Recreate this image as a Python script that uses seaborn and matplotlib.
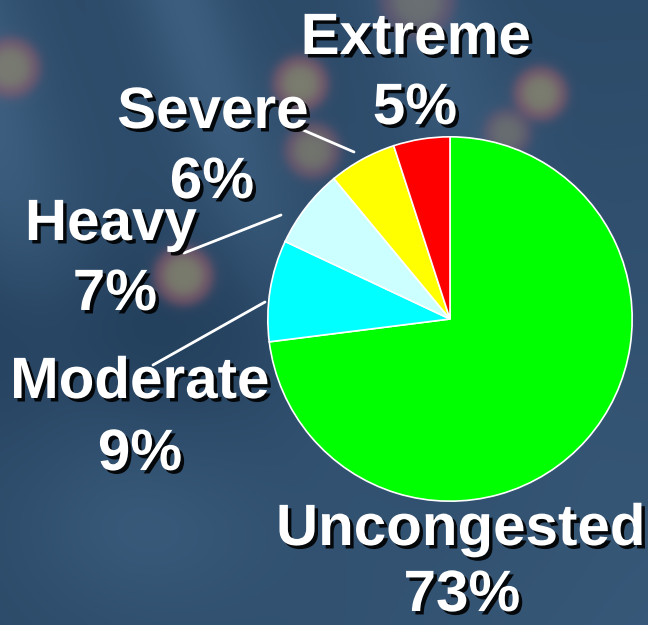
import numpy as np
import matplotlib.pyplot as plt
import matplotlib.patheffects as pe
from matplotlib.lines import Line2D
import seaborn as sns

# ---- data ----
labels = ["Uncongested", "Moderate", "Heavy", "Severe", "Extreme"]
shares = [73, 9, 7, 6, 5]
pct_labels = ["73%", "9%", "7%", "6%", "5%"]
colors = ["#00ff00", "#00ffff", "#ccffff", "#ffff00", "#ff0000"]

sns.set_style("white")
plt.rcParams["font.family"] = ["Liberation Sans", "DejaVu Sans"]

W, H = 648, 625
fig = plt.figure(figsize=(W / 100, H / 100), dpi=100)


def fxy(x, y):
    # pixel (from top-left) -> figure fraction
    return x / W, 1 - y / H


# ---- background (soft blue photo-like backdrop) ----
yy, xx = np.mgrid[0:H, 0:W].astype(float)
dark = np.array([0.12, 0.23, 0.34])
light = np.array([0.30, 0.44, 0.58])
t = 0.30 + 0.25 * (yy / H) * (xx / W)
# diagonal light streaks
for off, wid, s in [(-60, 70, 0.45), (180, 50, 0.35), (420, 60, 0.25)]:
    t += s * np.exp(-((xx - 0.35 * yy - off) / wid) ** 2) * np.exp(-(yy / 300.0) ** 2)
t -= 0.25 * np.exp(-(((xx - 120) / 200.0) ** 2 + ((yy - 330) / 90.0) ** 2))
t += 0.2 * np.exp(-(((xx - 140) / 120.0) ** 2 + ((yy - 530) / 80.0) ** 2))
bg = dark + (light - dark) * np.clip(t, 0, 1)[..., None]


def blob(cx, cy, r, strength=1.0):
    d = np.sqrt((xx - cx) ** 2 + (yy - cy) ** 2)
    outer = strength * 0.6 / (1 + np.exp((d - r) / 3.0))
    inner = strength * 0.6 / (1 + np.exp((d - 0.65 * r) / 3.5))
    for a, col in [(outer, (0.62, 0.34, 0.42)), (inner, (0.50, 0.60, 0.44))]:
        bg[...] = bg * (1 - a[..., None]) + np.array(col) * a[..., None]


for cx, cy, r, s in [(10, 67, 30, 0.9), (300, 83, 28, 1.0), (540, 93, 27, 1.0),
                     (312, 150, 28, 0.8), (183, 275, 30, 1.0), (417, 0, 38, 0.6),
                     (507, 132, 24, 0.6)]:
    blob(cx, cy, r, s)

bg_ax = fig.add_axes([0, 0, 1, 1], zorder=0)
bg_ax.imshow(np.clip(bg, 0, 1), extent=[0, W, H, 0], aspect="auto", interpolation="bilinear")
bg_ax.axis("off")

# ---- pie ----
cx, cy, rad = 450, 319, 184
ax = fig.add_axes([(cx - rad) / W, (H - cy - rad) / H, 2 * rad / W, 2 * rad / H], zorder=1)
ax.pie(shares, colors=colors, startangle=90, counterclock=False,
       wedgeprops=dict(edgecolor="white", linewidth=1.2))
ax.set_xlim(-1.01, 1.01)
ax.set_ylim(-1.01, 1.01)
ax.axis("off")

# ---- labels (name baseline, pct baseline) ----
label_pos = {
    "Uncongested": (461, 545, 462, 611),
    "Moderate": (140, 398, 140, 470),
    "Heavy": (111, 240, 115, 310),
    "Severe": (213, 128, 212, 198),
    "Extreme": (416, 54, 415, 124),
}
shadow = [pe.withSimplePatchShadow(offset=(2.5, -2.5), shadow_rgbFace="black", alpha=0.9)]
for name, pct in zip(labels, pct_labels):
    x1, y1, x2, y2 = label_pos[name]
    for txt, x, y in [(name, x1, y1), (pct, x2, y2)]:
        fig.text(*fxy(x, y), txt, ha="center", va="baseline", color="white",
                 fontsize=42, fontweight="bold", path_effects=shadow, zorder=3)

# leader lines
for (x0, y0), (x1, y1) in [((303, 130), (354, 152)),
                           ((184, 253), (281, 215)),
                           ((153, 365), (265, 302))]:
    a, b = fxy(x0, y0)
    c, d = fxy(x1, y1)
    fig.add_artist(Line2D([a, c], [b, d], color="white", lw=2, zorder=2))

fig.savefig("out.png", dpi=100)
